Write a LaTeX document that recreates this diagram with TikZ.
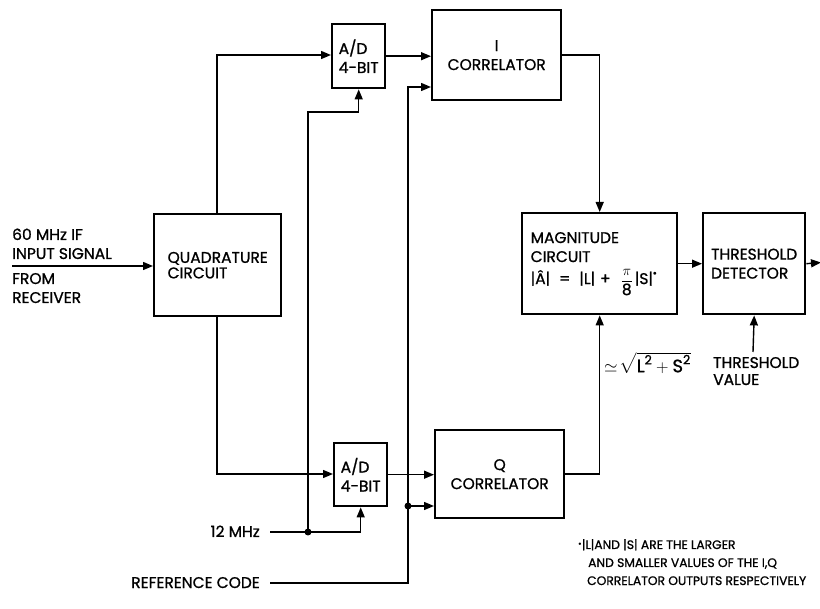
\documentclass[tikz,border=0pt]{standalone}
\usepackage{fontspec}
\usepackage{amsmath}
\setmainfont{Poppins}[FakeBold=1]
\usetikzlibrary{arrows.meta}
\newcommand\diagfont{\fontsize{15.5}{19}\selectfont}
\newcommand\notefont{\fontsize{12.3}{18}\selectfont}
\begin{document}
\begin{tikzpicture}[x=1pt,y=-1pt,
  box/.style={draw, line width=2.4pt, inner sep=0pt, align=center, font=\diagfont, anchor=north west},
  lbl/.style={inner sep=0pt, font=\diagfont},
  note/.style={inner sep=0pt, font=\notefont, anchor=base west},
  conn/.style={line width=1.4pt},
  arr/.style={-{Triangle[length=10pt,width=8pt]}},
  dot/.style={fill=black}]
\useasboundingbox (0,0) rectangle (820,609);

% boxes
\node[box, minimum width=127pt, minimum height=102pt, font=\fontsize{15.5}{15.5}\selectfont, align=left] (quad) at (153,213) {QUADRATURE\\CIRCUIT};
\node[box, minimum width=53pt, minimum height=64pt, align=left] (adtop) at (331,23) {A/D\\4-BIT};
\node[box, minimum width=53pt, minimum height=63pt, align=left] (adbot) at (333,442) {A/D\\4-BIT};
\node[box, minimum width=129pt, minimum height=90pt] (icor) at (431,9) {I\\CORRELATOR};
\node[box, minimum width=129pt, minimum height=88pt] (qcor) at (434,429) {Q\\CORRELATOR};
\node[box, minimum width=155pt, minimum height=101pt, text width=138pt, align=left] (mag) at (521,212)
  {MAGNITUDE\\CIRCUIT\\[3pt] |Â|\hspace{9pt}=\hspace{9pt}|L|\hspace{5pt}+\hspace{10pt}\raisebox{-1pt}{$\dfrac{\pi}{\text{8}}$}\hspace{2pt}|S|\raisebox{9pt}{\scriptsize$\bullet$}};
\node[box, minimum width=102pt, minimum height=101pt, align=left] (thr) at (702,212) {THRESHOLD\\DETECTOR};

% texts
\node[lbl, anchor=base west] (t60) at (12,240) {60 MHz IF};
\node[lbl, anchor=base west] (tinp) at (12,259) {INPUT SIGNAL};
\node[lbl, anchor=base west] (tfrom) at (12,284) {FROM};
\node[lbl, anchor=base west] (trec) at (12,303) {RECEIVER};
\node[lbl, anchor=base east] (t12) at (260,537) {12 MHz};
\node[lbl, anchor=base east] (tref) at (260,588) {REFERENCE CODE};
\node[lbl, anchor=west, font=\fontsize{18}{20}\selectfont] (tsqrt) at (604,363) {$\simeq\!\sqrt{\text{L}^{\text{2}}+\text{S}^{\text{2}}}$};
\node[lbl, anchor=base west] (tthr) at (713,368) {THRESHOLD};
\node[lbl, anchor=base west] (tval) at (713,385) {VALUE};
\node[note] (n1) at (578,549) {\raisebox{3pt}{\tiny$\bullet$}|L|AND |S| ARE THE LARGER};
\node[note] (n2) at (588,567) {AND SMALLER VALUES OF THE I,Q};
\node[note] (n3) at (587,585) {CORRELATOR OUTPUTS RESPECTIVELY};

% coordinates
\coordinate (inS) at (12,266);
\coordinate (qt) at (217,55);
\coordinate (qb) at (217,474);
\coordinate (clkin) at (270,532);
\coordinate (clkdot) at (308,532);
\coordinate (clktop) at (308,112);
\coordinate (refin) at (270,583);
\coordinate (refcorner) at (408,583);
\coordinate (refdot) at (408,506);
\coordinate (itop) at (408,87);
\coordinate (out) at (821,262.5);
\coordinate (thv) at (753,352);

% connectors
\draw[conn,arr] (inS) -- (quad.west |- inS);
\draw[conn,arr] (quad.north -| qt) -- (qt) -- (adtop.west |- qt);
\draw[conn,arr] (quad.south -| qb) -- (qb) -- (adbot.west |- qb);
\draw[conn,arr] (adtop.east) -- (icor.west |- adtop.east);
\draw[conn,arr] (adbot.east) -- (qcor.west |- adbot.east);
\draw[conn] (clkin) -- (clkdot);
\draw[conn,arr] (clkdot) -- (adbot.south |- clkdot) -- (adbot.south);
\draw[conn,arr] (clkdot) -- (clktop) -- (clktop -| adtop.south) -- (adtop.south);
\draw[conn] (refin) -- (refcorner) -- (refdot);
\draw[conn,arr] (refdot) -- (qcor.west |- refdot);
\draw[conn,arr] (refdot) -- (itop) -- (icor.west |- itop);
\draw[conn,arr] (icor.east) -- (icor.east -| mag.north) -- (mag.north);
\draw[conn,arr] (qcor.east) -- (qcor.east -| mag.south) -- (mag.south);
\draw[conn,arr] (mag.east) -- (thr.west);
\draw[conn,arr] (thr.east) -- (out);
\draw[conn,arr] (thv) -- (thr.south);
\fill[dot] (clkdot) circle (3.5pt);
\fill[dot] (refdot) circle (3.5pt);
\end{tikzpicture}
\end{document}
